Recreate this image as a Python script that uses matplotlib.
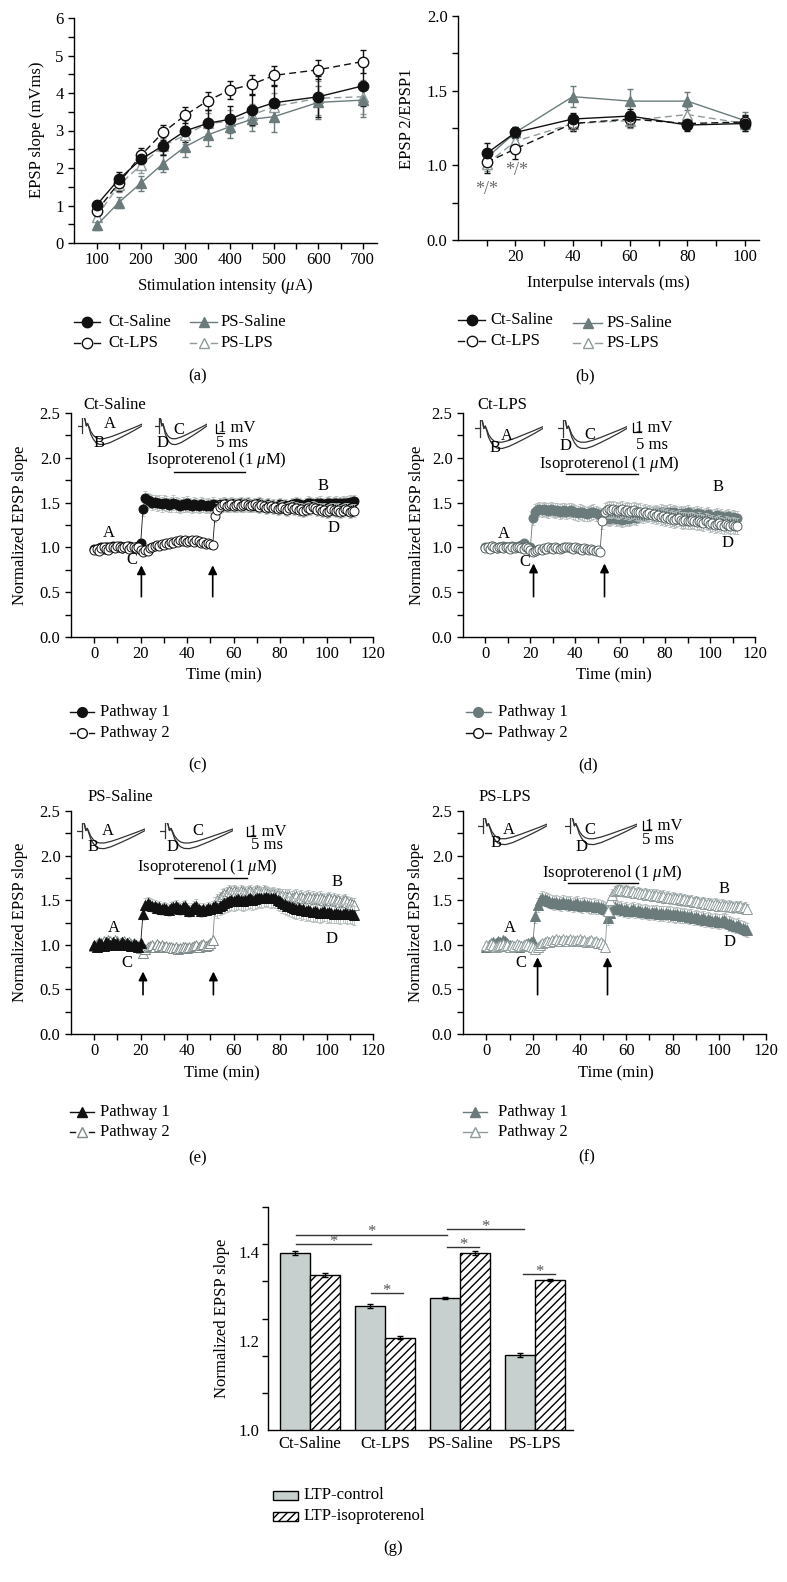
import numpy as np
import matplotlib
matplotlib.use('Agg')
import matplotlib.pyplot as plt
from matplotlib.lines import Line2D
from matplotlib.patches import Rectangle

plt.rcParams['font.family'] = ['Liberation Serif', 'DejaVu Serif']
plt.rcParams['mathtext.fontset'] = 'custom'
plt.rcParams['mathtext.rm'] = 'Liberation Serif'
plt.rcParams['mathtext.it'] = 'Liberation Serif:italic'
plt.rcParams['hatch.linewidth'] = 1.0
FS = 12

# ---------------- data ----------------
# (a) input-output
stim = [100, 150, 200, 250, 300, 350, 400, 450, 500, 600, 700]
a_ct_saline = [1.01, 1.70, 2.23, 2.60, 2.99, 3.19, 3.30, 3.55, 3.74, 3.90, 4.19]
a_ct_lps = [0.85, 1.60, 2.34, 2.95, 3.41, 3.79, 4.08, 4.23, 4.47, 4.62, 4.84]
a_ps_saline = [0.47, 1.08, 1.60, 2.12, 2.57, 2.88, 3.10, 3.30, 3.37, 3.75, 3.81]
a_ps_lps = [0.70, 1.54, 2.08, 2.59, 2.88, 3.19, 3.24, 3.41, 3.64, 3.86, 3.90]
a_ct_saline_err = [0.10, 0.20, 0.20, 0.25, 0.30, 0.35, 0.35, 0.40, 0.45, 0.55, 0.55]
a_ct_lps_err = [0.12, 0.20, 0.20, 0.20, 0.22, 0.25, 0.25, 0.25, 0.25, 0.25, 0.30]
a_ps_saline_err = [0.12, 0.15, 0.20, 0.22, 0.28, 0.28, 0.30, 0.30, 0.40, 0.45, 0.45]
a_ps_lps_err = [0.12, 0.18, 0.20, 0.22, 0.25, 0.28, 0.30, 0.30, 0.35, 0.45, 0.45]

# (b) paired-pulse
intervals = [10, 20, 40, 60, 80, 100]
b_ct_saline = [1.08, 1.22, 1.31, 1.33, 1.27, 1.28]
b_ct_lps = [1.02, 1.11, 1.28, 1.31, 1.28, 1.29]
b_ps_saline = [1.05, 1.22, 1.46, 1.43, 1.43, 1.30]
b_ps_lps = [1.01, 1.16, 1.28, 1.30, 1.34, 1.28]
b_ct_saline_err = [0.07, 0.04, 0.04, 0.05, 0.04, 0.05]
b_ct_lps_err = [0.07, 0.07, 0.05, 0.05, 0.04, 0.05]
b_ps_saline_err = [0.05, 0.04, 0.07, 0.08, 0.06, 0.06]
b_ps_lps_err = [0.05, 0.05, 0.05, 0.05, 0.05, 0.05]
b_yticks_labels = ['0.0', '1.0', '1.5', '2.0']

# (c)-(f) time courses, one value per minute from 0 to 112 min
c_p1 = [0.98, 0.97, 0.99, 1.00, 0.98, 1.01, 1.00, 0.99, 1.02, 1.01,
        1.00, 1.02, 0.99, 1.01, 1.00, 1.02, 1.01, 0.99, 1.01, 1.02,
        1.05, 1.43, 1.55, 1.53, 1.52, 1.50, 1.51, 1.49, 1.50, 1.48,
        1.50, 1.49, 1.47, 1.48, 1.50, 1.48, 1.47, 1.46, 1.48, 1.47,
        1.49, 1.47, 1.46, 1.48, 1.47, 1.46, 1.48, 1.47, 1.46, 1.47,
        1.46, 1.48, 1.47, 1.46, 1.48, 1.47, 1.49, 1.48, 1.47, 1.49,
        1.48, 1.47, 1.48, 1.49, 1.47, 1.48, 1.49, 1.47, 1.46, 1.48,
        1.47, 1.49, 1.48, 1.46, 1.47, 1.48, 1.46, 1.47, 1.45, 1.47,
        1.48, 1.46, 1.47, 1.45, 1.46, 1.48, 1.47, 1.49, 1.48, 1.47,
        1.46, 1.48, 1.50, 1.49, 1.48, 1.47, 1.49, 1.50, 1.48, 1.47,
        1.49, 1.50, 1.48, 1.49, 1.50, 1.48, 1.49, 1.50, 1.49, 1.50,
        1.51, 1.50, 1.52]
c_p2 = [0.97, 0.98, 0.96, 0.99, 1.00, 0.98, 0.97, 1.01, 1.00, 0.99,
        1.02, 1.01, 0.99, 1.00, 1.02, 0.98, 1.00, 1.01, 0.99, 1.00,
        0.97, 0.95, 0.97, 0.96, 0.99, 1.00, 1.02, 1.03, 1.02, 1.04,
        1.03, 1.05, 1.04, 1.06, 1.05, 1.07, 1.06, 1.08, 1.07, 1.08,
        1.06, 1.07, 1.08, 1.06, 1.08, 1.07, 1.05, 1.06, 1.04, 1.05,
        1.04, 1.03, 1.35, 1.42, 1.45, 1.47, 1.48, 1.46, 1.47, 1.48,
        1.46, 1.47, 1.48, 1.46, 1.47, 1.48, 1.47, 1.46, 1.47, 1.48,
        1.46, 1.45, 1.47, 1.46, 1.44, 1.45, 1.46, 1.44, 1.45, 1.43,
        1.44, 1.45, 1.43, 1.42, 1.44, 1.45, 1.43, 1.44, 1.42, 1.43,
        1.41, 1.42, 1.44, 1.43, 1.45, 1.44, 1.42, 1.43, 1.41, 1.42,
        1.40, 1.41, 1.43, 1.42, 1.41, 1.42, 1.40, 1.41, 1.43, 1.42,
        1.40, 1.41, 1.41]
d_p1 = [1.00, 0.99, 1.01, 1.02, 1.00, 0.99, 1.01, 1.00, 1.02, 1.01,
        1.00, 1.01, 1.02, 1.00, 1.01, 1.02, 1.03, 1.05, 1.02, 1.01,
        1.00, 1.33, 1.40, 1.42, 1.43, 1.42, 1.43, 1.42, 1.41, 1.43,
        1.42, 1.41, 1.42, 1.40, 1.41, 1.42, 1.40, 1.41, 1.42, 1.40,
        1.39, 1.38, 1.40, 1.39, 1.38, 1.37, 1.38, 1.39, 1.40, 1.38,
        1.37, 1.36, 1.35, 1.34, 1.33, 1.32, 1.33, 1.34, 1.32, 1.33,
        1.32, 1.31, 1.32, 1.33, 1.32, 1.33, 1.34, 1.33, 1.35, 1.36,
        1.35, 1.37, 1.36, 1.38, 1.37, 1.38, 1.39, 1.38, 1.40, 1.39,
        1.38, 1.39, 1.40, 1.38, 1.39, 1.38, 1.37, 1.38, 1.37, 1.38,
        1.39, 1.37, 1.36, 1.37, 1.38, 1.36, 1.37, 1.35, 1.36, 1.37,
        1.35, 1.34, 1.35, 1.36, 1.34, 1.35, 1.33, 1.34, 1.35, 1.33,
        1.34, 1.33, 1.33]
d_p2 = [0.99, 1.00, 0.98, 1.02, 1.00, 0.99, 1.01, 1.00, 0.99, 1.01,
        1.00, 0.98, 1.00, 0.99, 1.01, 1.00, 0.99, 0.98, 1.00, 0.99,
        0.97, 0.95, 0.96, 0.97, 0.98, 0.97, 0.99, 0.98, 1.00, 0.99,
        0.98, 1.00, 0.99, 0.98, 0.99, 1.00, 1.01, 1.00, 0.99, 0.98,
        1.00, 0.99, 0.98, 0.97, 0.99, 0.98, 0.97, 0.98, 0.97, 0.96,
        0.97, 0.95, 1.29, 1.40, 1.42, 1.43, 1.42, 1.43, 1.42, 1.41,
        1.42, 1.43, 1.41, 1.42, 1.40, 1.41, 1.42, 1.40, 1.39, 1.40,
        1.38, 1.39, 1.37, 1.38, 1.36, 1.37, 1.35, 1.36, 1.34, 1.35,
        1.33, 1.34, 1.32, 1.33, 1.31, 1.32, 1.33, 1.31, 1.30, 1.31,
        1.29, 1.30, 1.31, 1.29, 1.28, 1.30, 1.28, 1.27, 1.29, 1.28,
        1.26, 1.27, 1.25, 1.26, 1.27, 1.25, 1.24, 1.26, 1.25, 1.24,
        1.25, 1.24, 1.24]
e_p1 = [1.00, 0.98, 1.02, 1.01, 0.99, 1.03, 1.02, 1.00, 1.03, 1.01,
        1.02, 1.00, 1.03, 1.01, 1.02, 1.00, 0.99, 1.01, 1.00, 0.98,
        1.02, 1.35, 1.45, 1.47, 1.45, 1.44, 1.43, 1.41, 1.42, 1.40,
        1.41, 1.40, 1.39, 1.41, 1.42, 1.43, 1.41, 1.40, 1.42, 1.43,
        1.40, 1.38, 1.40, 1.42, 1.44, 1.40, 1.38, 1.40, 1.39, 1.41,
        1.40, 1.42, 1.43, 1.41, 1.44, 1.45, 1.47, 1.48, 1.49, 1.50,
        1.49, 1.50, 1.51, 1.50, 1.49, 1.50, 1.51, 1.52, 1.50, 1.51,
        1.52, 1.53, 1.52, 1.53, 1.54, 1.53, 1.52, 1.53, 1.52, 1.50,
        1.49, 1.47, 1.46, 1.44, 1.43, 1.42, 1.41, 1.40, 1.41, 1.39,
        1.40, 1.38, 1.39, 1.38, 1.37, 1.38, 1.37, 1.36, 1.37, 1.38,
        1.36, 1.37, 1.36, 1.35, 1.36, 1.35, 1.34, 1.35, 1.36, 1.34,
        1.35, 1.34, 1.33]
e_p2 = [0.99, 1.01, 1.03, 1.02, 1.04, 1.03, 1.05, 1.04, 1.03, 1.05,
        1.04, 1.02, 1.03, 1.04, 1.02, 1.03, 1.01, 1.02, 1.00, 0.99,
        0.96, 0.91, 0.95, 0.97, 0.99, 1.00, 0.98, 1.01, 0.99, 1.00,
        0.98, 0.99, 0.97, 0.98, 0.96, 0.97, 0.95, 0.96, 0.98, 0.97,
        0.96, 0.98, 0.97, 0.99, 1.00, 0.98, 1.00, 1.01, 0.99, 1.00,
        1.02, 1.05, 1.43, 1.50, 1.52, 1.55, 1.57, 1.58, 1.60, 1.59,
        1.60, 1.59, 1.58, 1.60, 1.59, 1.58, 1.59, 1.60, 1.58, 1.59,
        1.60, 1.59, 1.58, 1.60, 1.59, 1.58, 1.57, 1.58, 1.56, 1.57,
        1.55, 1.56, 1.55, 1.54, 1.55, 1.53, 1.54, 1.55, 1.53, 1.54,
        1.52, 1.53, 1.54, 1.52, 1.53, 1.51, 1.52, 1.53, 1.51, 1.50,
        1.51, 1.52, 1.50, 1.51, 1.49, 1.50, 1.48, 1.49, 1.50, 1.48,
        1.47, 1.46, 1.45]
f_p1 = [0.98, 1.00, 1.02, 1.03, 1.02, 1.04, 1.03, 1.05, 1.04, 1.02,
        1.00, 0.98, 0.97, 0.98, 0.97, 0.99, 1.00, 1.01, 1.02, 1.03,
        1.04, 1.32, 1.45, 1.50, 1.52, 1.51, 1.50, 1.49, 1.48, 1.47,
        1.48, 1.47, 1.46, 1.48, 1.47, 1.46, 1.47, 1.45, 1.46, 1.47,
        1.45, 1.44, 1.46, 1.45, 1.44, 1.43, 1.44, 1.42, 1.43, 1.42,
        1.41, 1.40, 1.30, 1.36, 1.40, 1.42, 1.41, 1.40, 1.41, 1.39,
        1.40, 1.38, 1.39, 1.40, 1.38, 1.39, 1.38, 1.37, 1.38, 1.37,
        1.36, 1.37, 1.36, 1.37, 1.35, 1.36, 1.35, 1.36, 1.34, 1.35,
        1.34, 1.33, 1.34, 1.33, 1.32, 1.33, 1.32, 1.31, 1.32, 1.30,
        1.31, 1.30, 1.29, 1.30, 1.28, 1.29, 1.28, 1.27, 1.28, 1.27,
        1.26, 1.27, 1.28, 1.26, 1.24, 1.23, 1.22, 1.21, 1.22, 1.20,
        1.19, 1.18, 1.17]
f_p2 = [1.00, 0.99, 1.01, 1.00, 0.98, 0.99, 1.00, 1.01, 0.99, 1.00,
        0.98, 1.00, 0.99, 1.01, 1.00, 0.99, 1.00, 1.01, 1.00, 0.99,
        0.97, 0.95, 0.98, 1.00, 1.02, 1.03, 1.04, 1.03, 1.05, 1.04,
        1.06, 1.05, 1.04, 1.06, 1.05, 1.04, 1.06, 1.05, 1.04, 1.05,
        1.06, 1.04, 1.05, 1.03, 1.04, 1.05, 1.03, 1.04, 1.02, 1.03,
        1.01, 0.98, 1.38, 1.50, 1.56, 1.60, 1.61, 1.62, 1.61, 1.60,
        1.61, 1.60, 1.59, 1.60, 1.58, 1.59, 1.58, 1.57, 1.58, 1.56,
        1.57, 1.56, 1.55, 1.56, 1.55, 1.54, 1.55, 1.53, 1.54, 1.52,
        1.53, 1.52, 1.51, 1.52, 1.50, 1.51, 1.50, 1.49, 1.50, 1.48,
        1.49, 1.48, 1.47, 1.48, 1.46, 1.47, 1.46, 1.45, 1.46, 1.45,
        1.44, 1.45, 1.44, 1.43, 1.44, 1.43, 1.42, 1.43, 1.42, 1.43,
        1.41, 1.42, 1.40]
# SEM levels: [0-20 min, 21-51 min, 52-112 min]
c_p1_sem = [0.03, 0.08, 0.07]
c_p2_sem = [0.03, 0.03, 0.07]
d_p1_sem = [0.03, 0.08, 0.08]
d_p2_sem = [0.03, 0.03, 0.09]
e_p1_sem = [0.03, 0.07, 0.11]
e_p2_sem = [0.03, 0.03, 0.07]
f_p1_sem = [0.03, 0.08, 0.08]
f_p2_sem = [0.03, 0.03, 0.06]

# (g) summary bars
groups = ['Ct-Saline', 'Ct-LPS', 'PS-Saline', 'PS-LPS']
ltp_control = [1.397, 1.278, 1.296, 1.168]
ltp_iso = [1.348, 1.207, 1.397, 1.337]
ltp_control_err = [0.004, 0.005, 0.003, 0.004]
ltp_iso_err = [0.005, 0.004, 0.005, 0.002]
g_ylabels = ['1.0', '1.2', '1.4']

# EPSP example trace shape (normalised)
trace_t = [0.10, 0.11, 0.13, 0.15, 0.17, 0.20, 0.24, 0.28, 0.33, 0.40, 0.50, 0.62, 0.75, 0.88, 1.00]
trace_before = [1.00, 0.95, 0.72, 0.80, 0.70, 0.52, 0.38, 0.30, 0.26, 0.26, 0.32, 0.42, 0.54, 0.66, 0.78]
trace_after = [1.00, 0.95, 0.72, 0.80, 0.66, 0.42, 0.24, 0.12, 0.06, 0.05, 0.12, 0.25, 0.40, 0.56, 0.72]

# ---------------- figure ----------------
W, H = 787, 1582
fig = plt.figure(figsize=(W / 100, H / 100), dpi=100)

BLACK = '#111111'
GRAY = '#6b7b7b'
LGRAY = '#8f9b9b'
EGRAY = '#b4bcbc'


def fx(x):
    return x / W


def fy(y):
    return 1 - y / H


def ax_px(l, t, r, b):
    return fig.add_axes([l / W, 1 - b / H, (r - l) / W, (b - t) / H])


def style(ax):
    for s in ['top', 'right']:
        ax.spines[s].set_visible(False)
    for s in ['left', 'bottom']:
        ax.spines[s].set_linewidth(1.0)
    ax.tick_params(which='both', direction='out', length=4.5, width=1.0, labelsize=FS)
    ax.tick_params(axis='x', which='both', pad=2)
    ax.tick_params(axis='y', which='both', pad=3)


def labels(ax, box, xl, xc, yl, yc):
    l, t, r, b = box
    ax.set_xlabel(xl, fontsize=FS, va='center', ha='center')
    ax.xaxis.set_label_coords((xc[0] - l) / (r - l), (b - xc[1]) / (b - t))
    ax.set_ylabel(yl, fontsize=FS, va='center', ha='center')
    ax.yaxis.set_label_coords((yc[0] - l) / (r - l), (b - yc[1]) / (b - t))


def ftext(x, y, s, **kw):
    kw.setdefault('fontsize', FS)
    kw.setdefault('va', 'center')
    kw.setdefault('ha', 'center')
    fig.text(fx(x), fy(y), s, **kw)


def leg(x0, x1, y, tx, label, color, marker, mfc, dashed, ms=7.5, lc=None):
    lc = lc or color
    xm = (x0 + x1) / 2
    if dashed:
        g = ms * 1.39 / 2 + 2
        fig.add_artist(Line2D([fx(x0), fx(xm - g)], [fy(y)] * 2, color=lc, lw=1.0))
        fig.add_artist(Line2D([fx(xm + g), fx(x1)], [fy(y)] * 2, color=lc, lw=1.0))
    else:
        fig.add_artist(Line2D([fx(x0), fx(x1)], [fy(y)] * 2, color=lc, lw=1.0))
    fig.add_artist(Line2D([fx(xm)], [fy(y)], marker=marker, ms=ms, mfc=mfc, mec=color,
                          mew=1.0, ls='none'))
    fig.text(fx(tx), fy(y), label, fontsize=FS, va='center', ha='left')


# ---------- panel (a) ----------
box_a = (74, 18, 377, 243)
axa = ax_px(*box_a)
style(axa)
ekw = dict(capsize=2.5, elinewidth=1.0, capthick=1.0, lw=1.0, ms=7.5, mew=1.0)
axa.errorbar(stim, a_ps_lps, yerr=a_ps_lps_err, color=LGRAY, ls=(0, (5, 3)), marker='^',
             mfc='white', mec=LGRAY, **ekw)
axa.errorbar(stim, a_ps_saline, yerr=a_ps_saline_err, color=GRAY, ls='-', marker='^',
             mfc=GRAY, mec=GRAY, **ekw)
axa.errorbar(stim, a_ct_lps, yerr=a_ct_lps_err, color=BLACK, ls=(0, (5, 3)), marker='o',
             mfc='white', mec=BLACK, **ekw)
axa.errorbar(stim, a_ct_saline, yerr=a_ct_saline_err, color=BLACK, ls='-', marker='o',
             mfc=BLACK, mec=BLACK, **ekw)
axa.set_xlim(49, 732)
axa.set_ylim(0, 6)
axa.set_xticks([100, 200, 300, 400, 500, 600, 700])
axa.set_xticks([150, 250, 350, 450, 550, 650], minor=True)
axa.set_yticks([0, 1, 2, 3, 4, 5, 6])
axa.set_yticks([0.5, 1.5, 2.5, 3.5, 4.5, 5.5], minor=True)
labels(axa, box_a, r'Stimulation intensity ($\mu$A)', (225, 286), 'EPSP slope (mVms)', (37, 130))

leg(74, 100, 322, 108, 'Ct-Saline', BLACK, 'o', BLACK, False)
leg(74, 100, 343, 108, 'Ct-LPS', BLACK, 'o', 'white', True)
leg(190, 217, 322, 221, 'PS-Saline', GRAY, '^', GRAY, False)
leg(190, 217, 343, 221, 'PS-LPS', LGRAY, '^', 'white', True)
ftext(198, 376, '(a)')

# ---------- panel (b) ----------
box_b = (458, 16, 759, 240)
axb = ax_px(*box_b)
style(axb)
axb.errorbar(intervals, b_ps_lps, yerr=b_ps_lps_err, color=LGRAY, ls=(0, (5, 3)), marker='^',
             mfc='white', mec=LGRAY, **ekw)
axb.errorbar(intervals, b_ps_saline, yerr=b_ps_saline_err, color=GRAY, ls='-', marker='^',
             mfc=GRAY, mec=GRAY, **ekw)
axb.errorbar(intervals, b_ct_lps, yerr=b_ct_lps_err, color=BLACK, ls=(0, (5, 3)), marker='o',
             mfc='white', mec=BLACK, **ekw)
axb.errorbar(intervals, b_ct_saline, yerr=b_ct_saline_err, color=BLACK, ls='-', marker='o',
             mfc=BLACK, mec=BLACK, **ekw)
axb.set_xlim(0, 105)
axb.set_ylim(0.5, 2.0)
axb.set_xticks([20, 40, 60, 80, 100])
axb.set_xticks([10, 30, 50, 70, 90], minor=True)
axb.set_yticks([0.5, 1.0, 1.5, 2.0])
axb.set_yticklabels(b_yticks_labels)
axb.set_yticks([0.75, 1.25, 1.75], minor=True)
labels(axb, box_b, 'Interpulse intervals (ms)', (608, 283), 'EPSP 2/EPSP1', (407, 119))
SCOL = '#6a6a6a'
axb.text(10, 0.84, '*/*', fontsize=FS + 1, color=SCOL, ha='center', va='center')
axb.text(20.5, 0.965, '*/*', fontsize=FS + 1, color=SCOL, ha='center', va='center')
axb.text(40, 1.21, '*', fontsize=FS + 1, color=SCOL, ha='center', va='center')
axb.text(60, 1.24, '*', fontsize=FS + 1, color=SCOL, ha='center', va='center')

leg(458, 485, 320, 490, 'Ct-Saline', BLACK, 'o', BLACK, False)
leg(458, 485, 341, 490, 'Ct-LPS', BLACK, 'o', 'white', True)
leg(573, 602, 323, 607, 'PS-Saline', GRAY, '^', GRAY, False)
leg(573, 602, 343, 607, 'PS-LPS', LGRAY, '^', 'white', True)
ftext(585, 376, '(b)')


# ---------- time-course panels ----------
def ts(ax, vals, lv, color, marker, mfc, ms, z):
    t = np.arange(len(vals))
    v = np.array(vals)
    sem = np.where(t < 21, lv[0], np.where(t < 52, lv[1], lv[2]))
    ax.errorbar(t, v, yerr=sem, fmt='none', ecolor=EGRAY, elinewidth=0.6, capsize=1.3,
                capthick=0.6, zorder=z)
    ax.plot(t, v, color=color, lw=0.6, marker=marker, ms=ms, mfc=mfc, mec=color, mew=0.7,
            zorder=z + 0.5)


def tc_axes(box, xlc, ylc):
    ax = ax_px(*box)
    style(ax)
    ax.set_xlim(-10, 120)
    ax.set_ylim(0, 2.5)
    ax.set_xticks([0, 20, 40, 60, 80, 100, 120])
    ax.set_xticks([10, 30, 50, 70, 90, 110], minor=True)
    ax.set_yticks([0.0, 0.5, 1.0, 1.5, 2.0, 2.5])
    ax.set_yticks([0.25, 0.75, 1.25, 1.75, 2.25], minor=True)
    ax.yaxis.set_major_formatter(matplotlib.ticker.FormatStrFormatter('%.1f'))
    labels(ax, box, 'Time (min)', xlc, 'Normalized EPSP slope', ylc)
    return ax


def decorate(ax, arrows, tip, tail, bar, iso_xy, letters):
    for xa in arrows:
        ax.annotate('', xy=(xa, tip), xytext=(xa, tail),
                    arrowprops=dict(arrowstyle='-|>', color='k', lw=1.2, mutation_scale=13,
                                    shrinkA=0, shrinkB=0))
    ax.plot(bar[:2], [bar[2], bar[2]], color='k', lw=1.0)
    ax.text(iso_xy[0], iso_xy[1], r'Isoproterenol (1 $\mu$M)', fontsize=FS, ha='center',
            va='center')
    for s, (x, y) in letters.items():
        ax.text(x, y, s, fontsize=FS, ha='center', va='center')


def inset(box1, box2, lab1, lab2, tcol='#333333'):
    for (l, t, r, b), (la, lb) in ((box1, lab1), (box2, lab2)):
        ia = ax_px(l, t, r, b)
        ia.axis('off')
        ia.set_xlim(0, 1)
        ia.set_ylim(0, 1)
        ia.plot([0, 0.07], [0.72, 0.72], color=tcol, lw=0.9)
        ia.plot([0.07, 0.07], [0.45, 1.0], color=tcol, lw=0.9)
        ia.plot(trace_t, trace_before, color=tcol, lw=0.9)
        ia.plot(trace_t, trace_after, color=tcol, lw=0.9)
        ftext(la[1][0], la[1][1], la[0])
        ftext(lb[1][0], lb[1][1], lb[0])


def scalebar(x, yb, ms_xy):
    fig.add_artist(Line2D([fx(x), fx(x), fx(x + 8)], [fy(yb - 9), fy(yb), fy(yb)], color='k',
                          lw=0.9))
    ftext(x + 2, yb - 4.5, '1 mV', ha='left')
    ftext(ms_xy[0], ms_xy[1], '5 ms')


# (c)
box_c = (71, 413, 373, 637)
axc = tc_axes(box_c, (224, 675), (20, 525))
ts(axc, c_p1, c_p1_sem, BLACK, 'o', BLACK, 6.5, 2)
ts(axc, c_p2, c_p2_sem, BLACK, 'o', 'white', 6.5, 3)
decorate(axc, [20.3, 51], 0.80, 0.45, (34.5, 65, 1.84), (52.5, 1.975),
         {'A': (6.5, 1.16), 'C': (16, 0.86), 'B': (98.5, 1.68), 'D': (103, 1.22)})
ftext(83, 405, 'Ct-Saline', ha='left')
inset((78, 418, 142, 446), (155, 418, 207, 446),
      (('A', (110, 424)), ('B', (99, 443))), (('C', (179, 430)), ('D', (163, 443))))
scalebar(216, 433, (232, 443))
leg(70, 94, 712, 100, 'Pathway 1', BLACK, 'o', BLACK, False, ms=7)
leg(70, 94, 733, 100, 'Pathway 2', BLACK, 'o', 'white', True, ms=7)
ftext(198, 765, '(c)')

# (d)
box_d = (463, 413, 755, 637)
axd = tc_axes(box_d, (614, 675), (417, 525))
ts(axd, d_p1, d_p1_sem, GRAY, 'o', GRAY, 6.5, 2)
ts(axd, d_p2, d_p2_sem, '#556060', 'o', 'white', 6.5, 3)
decorate(axd, [21.4, 53], 0.82, 0.45, (36, 68, 1.82), (55, 1.93),
         {'A': (8, 1.15), 'C': (17.4, 0.84), 'B': (103.6, 1.67), 'D': (107.6, 1.05)})
ftext(477, 405, 'Ct-LPS', ha='left')
inset((475, 420, 543, 450), (558, 420, 627, 450),
      (('A', (507, 436)), ('B', (495, 448))), (('C', (590, 435)), ('D', (566, 446))))
scalebar(633, 432, (652, 445))
leg(466, 491, 712, 498, 'Pathway 1', GRAY, 'o', GRAY, False, ms=7)
leg(466, 491, 733, 498, 'Pathway 2', BLACK, 'o', 'white', True, ms=7)
ftext(588, 765, '(d)')

# (e)
box_e = (71, 811, 373, 1034)
axe = tc_axes(box_e, (222, 1073), (20, 922))
ts(axe, e_p2, e_p2_sem, '#7d8888', '^', 'white', 7, 2)
ts(axe, e_p1, e_p1_sem, BLACK, '^', BLACK, 7, 3)
decorate(axe, [21, 51.3], 0.70, 0.44, (34.5, 65.7, 1.75), (48.6, 1.87),
         {'A': (8.3, 1.19), 'C': (14, 0.80), 'B': (104.5, 1.70), 'D': (102.3, 1.07)})
ftext(88, 797, 'PS-Saline', ha='left')
inset((77, 823, 145, 850), (160, 823, 233, 850),
      (('A', (108, 831)), ('B', (93, 847))), (('C', (198, 831)), ('D', (173, 847))))
scalebar(247, 836, (267, 845))
leg(70, 94, 1112, 100, 'Pathway 1', BLACK, '^', BLACK, False, ms=7)
leg(70, 94, 1132, 100, 'Pathway 2', '#7d8888', '^', 'white', True, ms=7, lc=BLACK)
ftext(198, 1158, '(e)')

# (f)
box_f = (463, 811, 766, 1034)
axf = tc_axes(box_f, (616, 1073), (416, 922))
ts(axf, f_p1, f_p1_sem, GRAY, '^', GRAY, 7, 2)
ts(axf, f_p2, f_p2_sem, LGRAY, '^', 'white', 7, 3)
decorate(axf, [22, 52], 0.86, 0.44, (35, 65, 1.69), (54.2, 1.81),
         {'A': (10, 1.19), 'C': (15, 0.80), 'B': (102, 1.63), 'D': (104.5, 1.03)})
ftext(479, 797, 'PS-LPS', ha='left')
inset((478, 818, 547, 846), (565, 818, 637, 846),
      (('A', (509, 830)), ('B', (496, 843))), (('C', (590, 830)), ('D', (582, 847))))
scalebar(643, 830, (658, 840))
leg(463, 487, 1112, 498, 'Pathway 1', GRAY, '^', GRAY, False, ms=7)
leg(463, 487, 1132, 498, 'Pathway 2', LGRAY, '^', 'white', False, ms=7)
ftext(587, 1157, '(f)')

# ---------- panel (g) ----------
box_g = (268, 1207, 573, 1430)
axg = ax_px(*box_g)
style(axg)
xg = np.arange(len(groups))
bw = 0.4
CTRL = '#c7cfcf'
axg.bar(xg - bw / 2, ltp_control, bw, color=CTRL, edgecolor='k', lw=1.0, zorder=2)
axg.bar(xg + bw / 2, ltp_iso, bw, color='white', edgecolor='k', lw=1.0, hatch='////', zorder=2)
axg.errorbar(xg - bw / 2, ltp_control, yerr=ltp_control_err, fmt='none', ecolor='k',
             elinewidth=1.0, capsize=2.5, capthick=1.0, zorder=3)
axg.errorbar(xg + bw / 2, ltp_iso, yerr=ltp_iso_err, fmt='none', ecolor='k',
             elinewidth=1.0, capsize=2.5, capthick=1.0, zorder=3)
axg.set_xlim(-0.56, 3.507)
axg.set_ylim(1.0, 1.5)
axg.set_xticks(xg)
axg.set_xticklabels(groups, fontsize=FS)
axg.tick_params(axis='x', length=0, pad=4)
axg.set_yticks([1.0, 1.2, 1.4])
axg.set_yticklabels(g_ylabels)
axg.tick_params(axis='y', which='major', length=0, pad=6)
axg.set_yticks([1.0, 1.0833, 1.1667, 1.25, 1.3333, 1.4167, 1.5], minor=True)
axg.tick_params(axis='y', which='minor', length=4.5)
axg.set_ylabel('Normalized EPSP slope', fontsize=FS, va='center', ha='center')
axg.yaxis.set_label_coords((222 - 268) / (573 - 268), 0.5)
sig_lines = [(-0.19, 0.82, 1.417), (-0.19, 1.83, 1.438), (1.83, 2.86, 1.451),
             (1.83, 2.25, 1.410), (0.81, 1.24, 1.307), (2.84, 3.27, 1.350)]
for x0, x1, y in sig_lines:
    axg.plot([x0, x1], [y, y], color='#333333', lw=1.0, zorder=4)
    axg.text((x0 + x1) / 2, y + 0.005, '*', fontsize=FS, color='#555555', ha='center',
             va='center', zorder=4)

for y, lab, fc, hatch in ((1495, 'LTP-control', CTRL, None), (1516, 'LTP-isoproterenol', 'white', '////')):
    fig.add_artist(Rectangle((fx(273), fy(y + 4.5)), 25 / W, 9 / H, facecolor=fc, edgecolor='k',
                             lw=1.0, hatch=hatch, transform=fig.transFigure))
    fig.text(fx(304), fy(y), lab, fontsize=FS, va='center', ha='left')
ftext(393, 1548, '(g)')

fig.savefig('out.png', dpi=100)
